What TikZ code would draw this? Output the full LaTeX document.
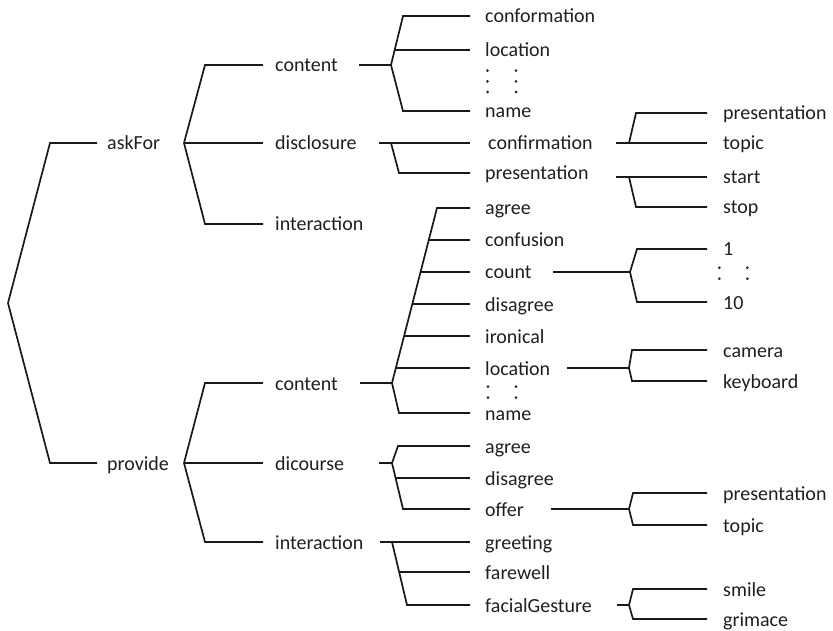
\documentclass[tikz,border=0pt]{standalone}
\usepackage{fontspec}
\setmainfont{Carlito}
\usetikzlibrary{calc}
% slanted bracket arm from a junction to a child label
\newcommand{\brk}[3]{\draw[br] (#1) -- ($(#2.west)+(-#3,0)$) -- (#2.west);}
% horizontal arm leaving a bracket part-way along
\newcommand{\arm}[2]{\draw[br] ($(#1.west)+(-#2,0)$) -- (#1.west);}
\begin{document}
\begin{tikzpicture}[x=1pt,y=-1pt,
  lbl/.style={anchor=west, inner ysep=0pt, text height=14pt, text depth=0pt,
              font=\fontsize{20}{24}\selectfont, text=black!88},
  l1/.style={lbl, inner xsep=10pt},
  l2/.style={lbl, inner xsep=12pt},
  l3/.style={lbl, inner xsep=15pt},
  l4/.style={lbl, inner xsep=16pt},
  br/.style={line width=1.7pt, line join=miter, line cap=butt, black!90},
  dotmark/.style={fill=black!85}
]
\useasboundingbox (0,0) rectangle (833,631);

% ---- root ----
\coordinate (root) at (8,303);
\node[l1] (askFor) at (97,143) {askFor};
\node[l1] (provide) at (97,463) {provide};
\brk{root}{askFor}{47}
\brk{root}{provide}{47}

% ---- askFor ----
\coordinate (jA) at (184,143);
\node[l2] (aContent) at (263,65) {content};
\node[l2] (aDisc) at (263,143) {disclosure};
\node[l2] (aInter) at (263,224) {interaction};
\brk{jA}{aContent}{58}
\draw[br] (jA) -- (aDisc.west);
\brk{jA}{aInter}{58}

% askFor / content
\coordinate (aCs) at (359,65);
\coordinate (jAC) at (391,65);
\draw[br] (aCs) -- (jAC);
\node[l3] (conf) at (470,16) {conformation};
\node[l3] (aLoc) at (470,50) {location};
\node[l3] (aName) at (470,111) {name};
\brk{jAC}{conf}{67}
\arm{aLoc}{75.3}
\brk{jAC}{aName}{67}
\fill[dotmark] (487.5,70.7) circle (1.5pt) (487.5,81.3) circle (1.5pt) (487.5,92) circle (1.5pt);
\fill[dotmark] (516,70.7) circle (1.5pt) (516,81.3) circle (1.5pt) (516,92) circle (1.5pt);

% askFor / disclosure
\coordinate (aDs) at (379,143);
\coordinate (jAD) at (391,143);
\draw[br] (aDs) -- (jAD);
\node[l3, inner xsep=18pt] (confirm) at (470,143) {confirmation};
\node[l3] (aPres) at (470,173) {presentation};
\draw[br] (jAD) -- (confirm.west);
\brk{jAD}{aPres}{71}

% confirmation
\coordinate (cfs) at (616,143);
\coordinate (jCf) at (629,143);
\draw[br] (cfs) -- (jCf);
\node[l4] (cfPres) at (707,113) {presentation};
\node[l4] (cfTopic) at (707,143) {topic};
\brk{jCf}{cfPres}{71}
\draw[br] (jCf) -- (cfTopic.west);

% presentation
\coordinate (prs) at (616,177);
\coordinate (jPr) at (629,177);
\draw[br] (prs) -- (jPr);
\node[l4] (start) at (707,177) {start};
\node[l4] (stop) at (707,207) {stop};
\draw[br] (jPr) -- (start.west);
\brk{jPr}{stop}{71}

% ---- provide ----
\coordinate (jP) at (184,463);
\node[l2] (pContent) at (263,383) {content};
\node[l2] (pDisc) at (263,463) {dicourse};
\node[l2] (pInter) at (263,542) {interaction};
\brk{jP}{pContent}{58}
\draw[br] (jP) -- (pDisc.west);
\brk{jP}{pInter}{58}

% provide / content
\coordinate (pCs) at (360,383);
\coordinate (jPC) at (392,383);
\draw[br] (pCs) -- (jPC);
\node[l3] (pAgree) at (470,208) {agree};
\node[l3] (pConf) at (470,240) {confusion};
\node[l3] (pCount) at (470,272) {count};
\node[l3] (pDis) at (470,304) {disagree};
\node[l3] (pIron) at (470,336) {ironical};
\node[l3] (pLoc) at (470,368) {location};
\node[l3] (pName) at (470,413) {name};
\brk{jPC}{pAgree}{33}
\arm{pConf}{41.2}
\arm{pCount}{49.5}
\arm{pDis}{57.7}
\arm{pIron}{65.9}
\arm{pLoc}{74.1}
\brk{jPC}{pName}{71}
\fill[dotmark] (488,386.7) circle (1.5pt) (488,397.7) circle (1.5pt);
\fill[dotmark] (516,386.7) circle (1.5pt) (516,397.7) circle (1.5pt);

% count
\coordinate (cnts) at (553,272);
\coordinate (jCnt) at (630,272);
\draw[br] (cnts) -- (jCnt);
\node[l4] (one) at (707,249) {1};
\node[l4] (ten) at (707,302) {10};
\brk{jCnt}{one}{70}
\brk{jCnt}{ten}{70}
\fill[dotmark] (719.3,267.7) circle (1.5pt) (719.3,278.7) circle (1.5pt);
\fill[dotmark] (747.3,267.7) circle (1.5pt) (747.3,278.7) circle (1.5pt);

% location
\coordinate (locs) at (567,368);
\coordinate (jLoc) at (629,368);
\draw[br] (locs) -- (jLoc);
\node[l4] (camera) at (707,350) {camera};
\node[l4] (keyboard) at (707,381) {keyboard};
\brk{jLoc}{camera}{75}
\brk{jLoc}{keyboard}{75}

% provide / dicourse
\coordinate (dcs) at (379,463);
\coordinate (jD) at (392,463);
\draw[br] (dcs) -- (jD);
\node[l3] (dAgree) at (470,446) {agree};
\node[l3] (dDis) at (470,478) {disagree};
\node[l3] (offer) at (470,509) {offer};
\brk{jD}{dAgree}{72}
\arm{dDis}{74.4}
\brk{jD}{offer}{67}

% offer
\coordinate (ofs) at (551,509);
\coordinate (jOf) at (629,509);
\draw[br] (ofs) -- (jOf);
\node[l4] (oPres) at (707,493) {presentation};
\node[l4] (oTopic) at (707,525) {topic};
\brk{jOf}{oPres}{74}
\brk{jOf}{oTopic}{74}

% provide / interaction
\coordinate (pis) at (380,542);
\coordinate (jI) at (392,542);
\draw[br] (pis) -- (jI);
\node[l3] (greet) at (470,542) {greeting};
\node[l3] (farewell) at (470,572) {farewell};
\node[l3] (facial) at (470,605) {facialGesture};
\draw[br] (jI) -- (greet.west);
\arm{farewell}{71}
\brk{jI}{facial}{63}

% facialGesture
\coordinate (fgs) at (617,605);
\coordinate (jFG) at (629,605);
\draw[br] (fgs) -- (jFG);
\node[l4] (smile) at (707,589) {smile};
\node[l4] (grimace) at (707,619) {grimace};
\brk{jFG}{smile}{74}
\brk{jFG}{grimace}{74}
\end{tikzpicture}
\end{document}
